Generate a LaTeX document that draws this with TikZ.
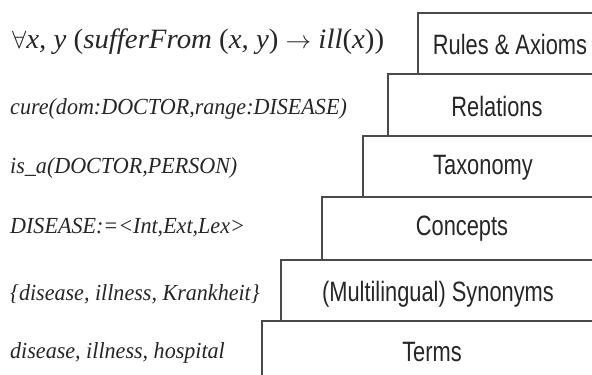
\documentclass[tikz,border=0pt]{standalone}
\usepackage{fontspec}
\setmainfont{Liberation Serif}
\newfontfamily\boxfont{Liberation Sans}
\definecolor{linecol}{HTML}{4A4A4A}
\definecolor{txtcol}{HTML}{262626}
\begin{document}
\begin{tikzpicture}[x=1pt,y=-1pt,
  layer/.style={draw=linecol, line width=1.4pt, fill=white, inner sep=0pt},
  laytext/.style={text=txtcol, inner sep=0pt, font=\boxfont\fontsize{28}{28}\selectfont},
  lefttext/.style={text=txtcol, inner sep=0pt, anchor=base west, font=\fontsize{23}{23}\selectfont\itshape}]
\useasboundingbox (0,0) rectangle (592,375);
\clip (0,0) rectangle (592,375);
\fill[white] (0,0) rectangle (592,375);
% layers (right edges run past the picture)
\draw[layer] (605,13) -- (418,13) -- (418,74) -- (605,74);
\draw[layer] (605,74) -- (388,74) -- (388,136) -- (605,136);
\draw[layer] (605,136) -- (363,136) -- (363,197) -- (605,197);
\draw[layer] (605,197) -- (322,197) -- (322,260) -- (605,260);
\draw[layer] (605,260) -- (281,260) -- (281,321) -- (605,321);
\draw[layer] (605,321) -- (262,321) -- (262,385);
% layer labels
\node[laytext] (rules) at (510,44) {\scalebox{0.78}[1]{Rules \& Axioms}};
\node[laytext] (rel) at (497,106) {\scalebox{0.78}[1]{Relations}};
\node[laytext] (tax) at (483,168) {\scalebox{0.78}[1]{Taxonomy}};
\node[laytext] (con) at (462,229) {\scalebox{0.78}[1]{Concepts}};
\node[laytext] (syn) at (438,294) {\scalebox{0.78}[1]{(Multilingual) Synonyms}};
\node[laytext] (term) at (432,352) {\scalebox{0.78}[1]{Terms}};
% examples
\node[lefttext, font=\fontsize{28}{28}\selectfont] (f) at (12,48)
  {\scalebox{1.03}[1]{$\forall$\textit{x, y} (\textit{sufferFrom} (\textit{x, y}) $\rightarrow$ \textit{ill}(\textit{x}))}};
\node[lefttext] (cure) at (10,114) {\scalebox{0.96}[1]{cure(dom:DOCTOR,range:DISEASE)}};
\node[lefttext] (isa) at (10,173) {\scalebox{0.96}[1]{is\_a(DOCTOR,PERSON)}};
\node[lefttext] (dis) at (10,233) {\scalebox{0.96}[1]{DISEASE:=<Int,Ext,Lex>}};
\node[lefttext] (syns) at (10,300) {\scalebox{0.96}[1]{\{disease, illness, Krankheit\}}};
\node[lefttext] (terms) at (10,358) {\scalebox{0.96}[1]{disease, illness, hospital}};
\end{tikzpicture}
\end{document}
